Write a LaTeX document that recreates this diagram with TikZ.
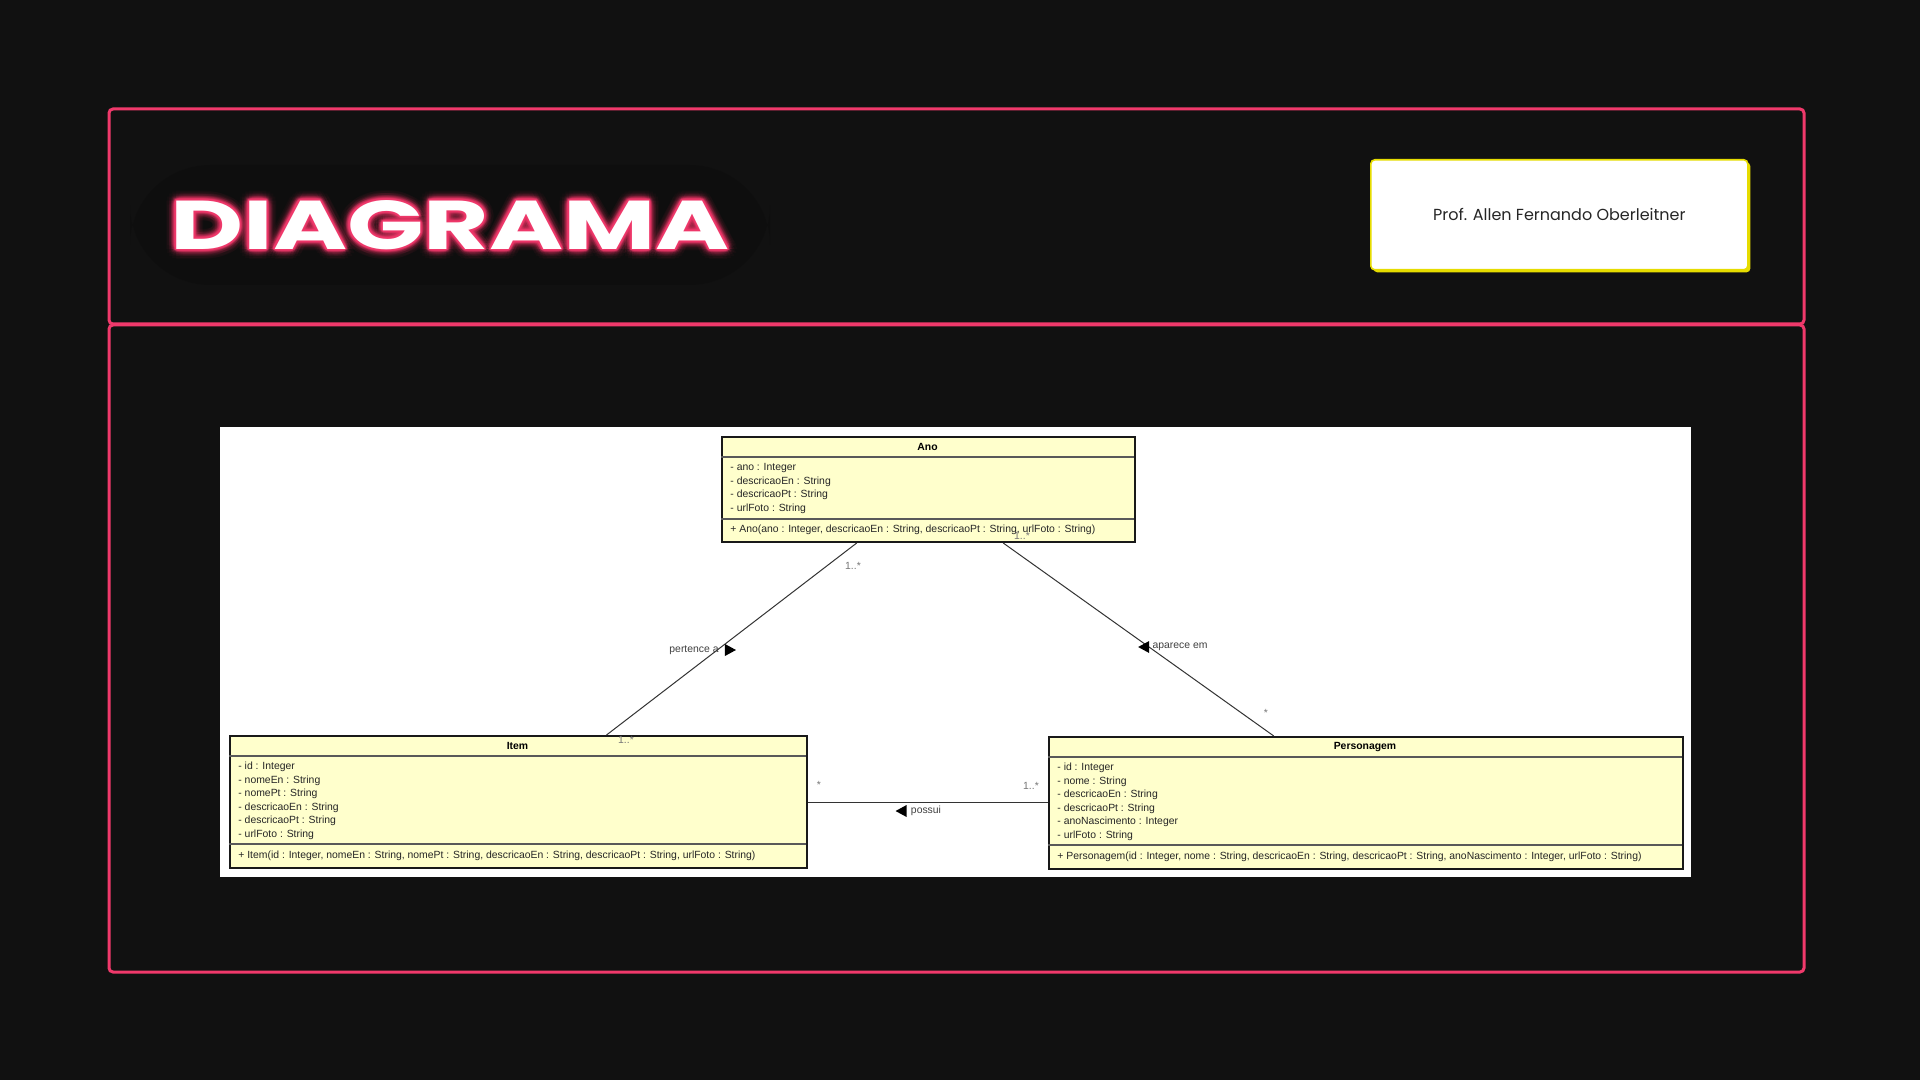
\documentclass[tikz,border=0pt]{standalone}
\usepackage{fontspec}
\setmainfont{Liberation Sans}
\newfontfamily\umlfont{Liberation Sans}
\newfontfamily\titlefont{Poppins}
\newfontfamily\authorfont{Poppins}
\usetikzlibrary{calc}
\definecolor{bg}{HTML}{111111}
\definecolor{neon}{HTML}{F0396B}
\definecolor{umlfill}{HTML}{FFFFCC}
\definecolor{mult}{HTML}{777777}
\definecolor{tagyellow}{HTML}{E6DC00}
\newcommand{\titletext}{\resizebox{279.5pt}{24.5pt}{\titlefont\bfseries DIAGRAMA}}
\newcommand{\umlsize}{\fontsize{5.2pt}{6pt}\selectfont}

\begin{document}
\begin{tikzpicture}[x=0.5pt,y=-0.5pt,
  frame/.style={draw=neon,line width=1.5pt,rounded corners=2pt},
  classbox/.style={draw=black!90,line width=1pt,fill=umlfill,anchor=north west,inner sep=0pt},
  row/.style={anchor=west,inner sep=0pt,font=\umlfont\umlsize,text=black!85},
  cname/.style={inner sep=0pt,font=\umlfont\bfseries\umlsize,text=black},
  sep/.style={draw=black!65,line width=0.6pt},
  link/.style={draw=black!80,line width=0.5pt},
  multlbl/.style={inner sep=0pt,font=\umlfont\umlsize,text=mult},
  rolelbl/.style={inner sep=0pt,font=\umlfont\umlsize,text=black!75}
]
% page
\fill[bg] (0,0) rectangle (1920,1080);
\useasboundingbox (0,0) rectangle (1920,1080);

% neon frame: header and body
\draw[frame] (109,109) rectangle (1804,324);
\draw[frame] (109,325) rectangle (1804,972);

% title with neon glow
\fill[black,opacity=0.12,rounded corners=40pt] (130,165) rectangle (770,285);
\coordinate (title) at (450,225);
\foreach \r/\o in {10/0.03,7/0.05,5/0.08,3.5/0.14,2.2/0.3,1.2/0.55}
  \foreach \a in {0,22.5,...,337.5}
    \node[inner sep=0pt,text=neon,text opacity=\o] at ($(title)+(\a:\r)$) {\titletext};
\node[inner sep=0pt,text=white] (titlenode) at (title) {\titletext};

% author tag
\node[anchor=north west,fill=tagyellow,rounded corners=2pt,minimum width=188.5pt,minimum height=55pt,inner sep=0pt] (authorshadow) at (1373,162) {};
\node[anchor=north west,fill=white,draw=tagyellow,line width=0.8pt,rounded corners=2pt,minimum width=188.5pt,minimum height=55pt,inner sep=0pt,font=\authorfont\fontsize{8pt}{9pt}\selectfont,text=black!85] (author) at (1370,159) {Prof. Allen Fernando Oberleitner};

% diagram panel
\node[anchor=north west,fill=white,minimum width=735.5pt,minimum height=225pt,inner sep=0pt] (panel) at (220,427) {};

% class Ano
\node[classbox,minimum width=206.5pt,minimum height=52.5pt] (ano) at (721,436) {};
\node[cname] (anoname) at (927.5,447) {Ano};
\draw[sep] (721,457) -- (1134,457);
\node[row] at (730,468) {- ano : Integer};
\node[row] at (730,481.5) {- descricaoEn : String};
\node[row] at (730,495) {- descricaoPt : String};
\node[row] at (730,508.5) {- urlFoto : String};
\draw[sep] (721,519) -- (1134,519);
\node[row] at (730,530) {+ Ano(ano : Integer, descricaoEn : String, descricaoPt : String, urlFoto : String)};

% class Item
\node[classbox,minimum width=288.5pt,minimum height=66pt] (item) at (229,735) {};
\node[cname] (itemname) at (517.5,746) {Item};
\draw[sep] (229,756) -- (806,756);
\node[row] at (238,767) {- id : Integer};
\node[row] at (238,780.5) {- nomeEn : String};
\node[row] at (238,794) {- nomePt : String};
\node[row] at (238,807.5) {- descricaoEn : String};
\node[row] at (238,821) {- descricaoPt : String};
\node[row] at (238,834.5) {- urlFoto : String};
\draw[sep] (229,844) -- (806,844);
\node[row] at (238,855.5) {+ Item(id : Integer, nomeEn : String, nomePt : String, descricaoEn : String, descricaoPt : String, urlFoto : String)};

% class Personagem
\node[classbox,minimum width=317pt,minimum height=66pt] (pers) at (1048,736) {};
\node[cname] (persname) at (1365,747) {Personagem};
\draw[sep] (1048,757) -- (1682,757);
\node[row] at (1057,768) {- id : Integer};
\node[row] at (1057,781.5) {- nome : String};
\node[row] at (1057,795) {- descricaoEn : String};
\node[row] at (1057,808.5) {- descricaoPt : String};
\node[row] at (1057,822) {- anoNascimento : Integer};
\node[row] at (1057,835.5) {- urlFoto : String};
\draw[sep] (1048,845) -- (1682,845);
\node[row] at (1057,856.5) {+ Personagem(id : Integer, nome : String, descricaoEn : String, descricaoPt : String, anoNascimento : Integer, urlFoto : String)};

% associations
\draw[link] ($(ano.south west)!0.327!(ano.south east)$) -- ($(item.north west)!0.652!(item.north east)$);
\draw[link] ($(ano.south west)!0.680!(ano.south east)$) -- ($(pers.north west)!0.355!(pers.north east)$);
\draw[link] (item.east) -- (item.east -| pers.west);

% multiplicities
\node[multlbl] (m1) at (853,566) {1..*};
\node[multlbl] (m2) at (626,740) {1..*};
\node[multlbl] (m3) at (1022,536) {1..*};
\node[multlbl] (m4) at (1266,713) {*};
\node[multlbl] (m5) at (819,785) {*};
\node[multlbl] (m6) at (1031,786) {1..*};

% association names with reading direction
\node[rolelbl] (pert) at (694,650) {pertence a};
\fill[black] ($(pert.east)+(6,-6)$) -- ++(11,6) -- ++(-11,6) -- cycle;
\node[rolelbl] (apar) at (1180,647) {aparece em};
\fill[black] ($(apar.west)+(-3,-6)$) -- ++(-11,6) -- ++(11,6) -- cycle;
\node[rolelbl] (poss) at (926,811) {possui};
\fill[black] ($(poss.west)+(-4,-6)$) -- ++(-11,6) -- ++(11,6) -- cycle;
\end{tikzpicture}
\end{document}
